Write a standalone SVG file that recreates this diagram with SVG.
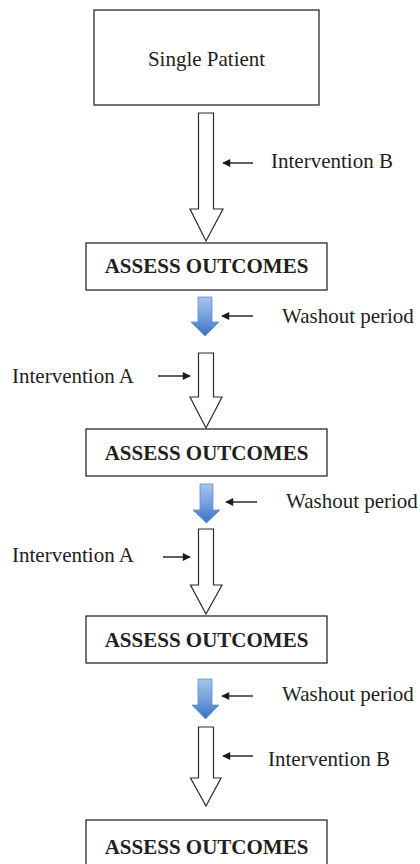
<svg xmlns="http://www.w3.org/2000/svg" width="420" height="864" viewBox="0 0 420 864">
  <style>
    .box { fill: #ffffff; stroke: #2b2b2b; stroke-width: 1.3; }
    .txt { font-family: "Liberation Serif", "Times New Roman", serif; font-size: 21px; fill: #231f20; }
    .bold { font-weight: bold; text-anchor: middle; }
    .mid { text-anchor: middle; }
    .hollow { fill: #ffffff; stroke: #2b2b2b; stroke-width: 1.2; stroke-linejoin: miter; }
    .blue { fill: url(#blueGrad); stroke: #5b8fd0; stroke-width: 0.8; }
    .ptr { stroke: #1a1a1a; stroke-width: 1.4; fill: none; marker-end: url(#head); }
  </style>
  <defs>
    <linearGradient id="blueGrad" x1="0" y1="0" x2="0" y2="1">
      <stop offset="0" stop-color="#a9c5ec"/>
      <stop offset="0.55" stop-color="#6f9bdc"/>
      <stop offset="1" stop-color="#3a6fc0"/>
    </linearGradient>
    <marker id="head" viewBox="0 0 10 10" refX="9" refY="5" markerWidth="9" markerHeight="8" markerUnits="userSpaceOnUse" orient="auto">
      <path d="M0,0 L10,5 L0,10 Z" fill="#1a1a1a"/>
    </marker>
  </defs>

  <g id="node-single-patient">
    <rect class="box" x="94" y="10" width="225" height="95"/>
    <text class="txt mid" x="206.5" y="66">Single Patient</text>
  </g>
  <g id="node-assess-1">
    <rect class="box" x="86" y="243" width="241" height="47"/>
    <text class="txt bold" x="206.5" y="273">ASSESS OUTCOMES</text>
  </g>
  <g id="node-assess-2">
    <rect class="box" x="86" y="429" width="241" height="47"/>
    <text class="txt bold" x="206.5" y="460">ASSESS OUTCOMES</text>
  </g>
  <g id="node-assess-3">
    <rect class="box" x="86" y="616" width="241" height="47"/>
    <text class="txt bold" x="206.5" y="647">ASSESS OUTCOMES</text>
  </g>
  <g id="node-assess-4">
    <rect class="box" x="86" y="820" width="241" height="48"/>
    <text class="txt bold" x="206.5" y="854">ASSESS OUTCOMES</text>
  </g>

  <g id="connectors">
    <polygon class="hollow" points="198.5,113 213.5,113 213.5,209 223,209 206,241 190,209 198.5,209"/>
    <polygon class="blue" points="198,297 212,297 212,322 219,322 205,336 191,322 198,322"/>
    <polygon class="hollow" points="198.5,353 213.5,353 213.5,397 222,397 206,428 190,397 198.5,397"/>
    <polygon class="blue" points="200,484 213,484 213,510 220,510 206.5,523 193,510 200,510"/>
    <polygon class="hollow" points="198.5,529 213.5,529 213.5,585 222,585 206,614 190.5,585 198.5,585"/>
    <polygon class="blue" points="198,679 212,679 212,705 219,705 205.5,719 192,705 198,705"/>
    <polygon class="hollow" points="198.5,727 213.5,727 213.5,778 221,778 206,806 190.5,778 198.5,778"/>

    <line class="ptr" x1="253" y1="163" x2="223" y2="163"/>
    <line class="ptr" x1="253" y1="316" x2="222" y2="316"/>
    <line class="ptr" x1="158" y1="376" x2="190" y2="376"/>
    <line class="ptr" x1="257" y1="502" x2="226" y2="502"/>
    <line class="ptr" x1="163" y1="557" x2="190" y2="557"/>
    <line class="ptr" x1="253" y1="696" x2="222" y2="696"/>
    <line class="ptr" x1="253" y1="756" x2="223" y2="756"/>
  </g>

  <g id="labels">
    <text class="txt" x="271" y="168">Intervention B</text>
    <text class="txt" x="282" y="323">Washout period</text>
    <text class="txt" x="12" y="383">Intervention A</text>
    <text class="txt" x="286" y="508">Washout period</text>
    <text class="txt" x="12" y="562">Intervention A</text>
    <text class="txt" x="282" y="701">Washout period</text>
    <text class="txt" x="268" y="766">Intervention B</text>
  </g>
</svg>
